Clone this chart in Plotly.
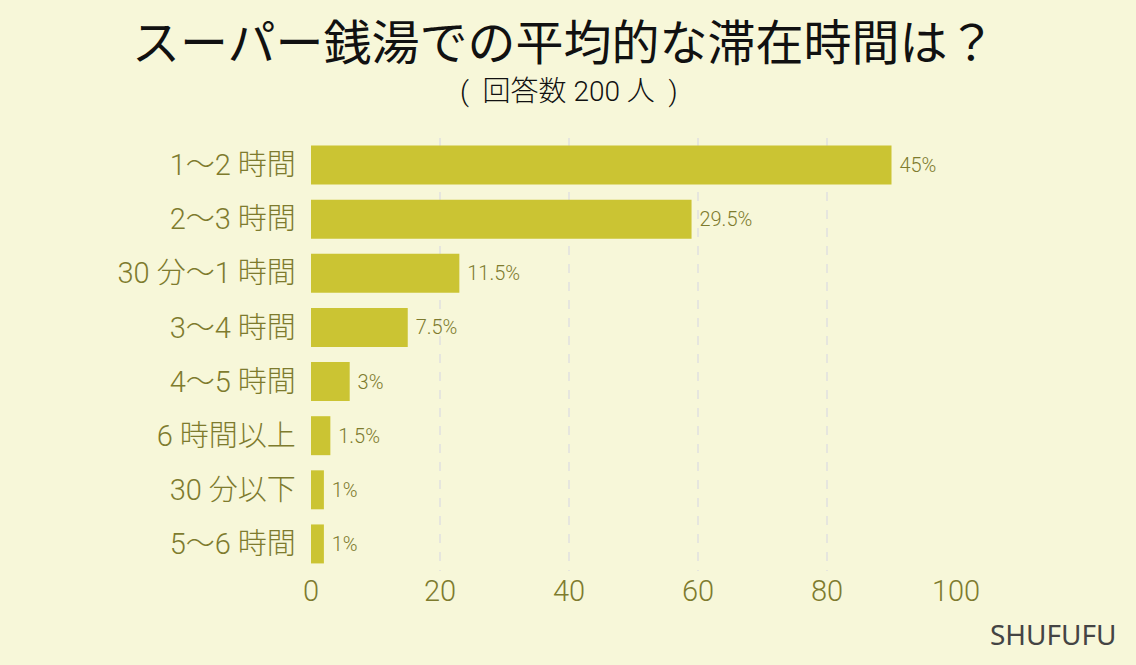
import plotly.graph_objects as go

categories = ["1～2 時間", "2～3 時間", "30 分～1 時間", "3～4 時間", "4～5 時間", "6 時間以上", "30 分以下", "5～6 時間"]
counts = [90, 59, 23, 15, 6, 3, 2, 2]
pct_labels = ["45%", "29.5%", "11.5%", "7.5%", "3%", "1.5%", "1%", "1%"]
x_ticks = [0, 20, 40, 60, 80, 100]

BG = "#F7F7D9"
BAR = "#CBC433"
OLIVE = "#7E7B2E"
FONT = "Roboto, Noto Sans CJK JP"
CJK = "Noto Sans CJK JP"

fig = go.Figure(go.Bar(
    x=counts, y=categories, orientation="h",
    marker=dict(color=BAR, line=dict(width=0)),
    width=0.72,
    text=[" " + t for t in pct_labels], textposition="outside",
    textfont=dict(family=FONT, size=20, color=OLIVE, weight=300),
    cliponaxis=False,
))

pw = 1136 - 311 - 180
ph = 665 - 138 - 94
def px_to_paper_x(px):
    return (px - 311) / pw
def px_to_paper_y(py):
    return (665 - 94 - py) / ph

fig.update_layout(
    width=1136, height=665,
    paper_bgcolor=BG, plot_bgcolor=BG,
    margin=dict(l=311, r=180, t=138, b=94),
    showlegend=False,
    font=dict(family=FONT, color=OLIVE),
    xaxis=dict(range=[0, 100], tickvals=x_ticks, showgrid=True,
               gridcolor="#E6E6DE", griddash="dash", gridwidth=1.5,
               zeroline=False, showline=False,
               tickfont=dict(family=FONT, size=29, color=OLIVE, weight=300), ticks=""),
    yaxis=dict(autorange="reversed", showgrid=False, zeroline=False,
               tickfont=dict(family=FONT, size=29, color=OLIVE, weight=300), ticks="",
               ticksuffix="  "),
    annotations=[
        dict(text="スーパー銭湯での平均的な滞在時間は？",
             x=px_to_paper_x(564), y=px_to_paper_y(39), xref="paper", yref="paper",
             xanchor="center", yanchor="middle",
             showarrow=False, font=dict(family=CJK, size=48, color="#111111")),
        dict(text="(  回答数 200 人  )",
             x=px_to_paper_x(569), y=px_to_paper_y(91), xref="paper", yref="paper",
             xanchor="center", yanchor="middle",
             showarrow=False, font=dict(family=FONT, size=28, color="#111111", weight=300)),
        dict(text="SHUFUFU",
             x=px_to_paper_x(1119), y=px_to_paper_y(634), xref="paper", yref="paper",
             xanchor="right", yanchor="middle",
             showarrow=False, font=dict(family="Noto Sans", size=28, color="#444444")),
    ],
)

fig.write_html("out.html")
